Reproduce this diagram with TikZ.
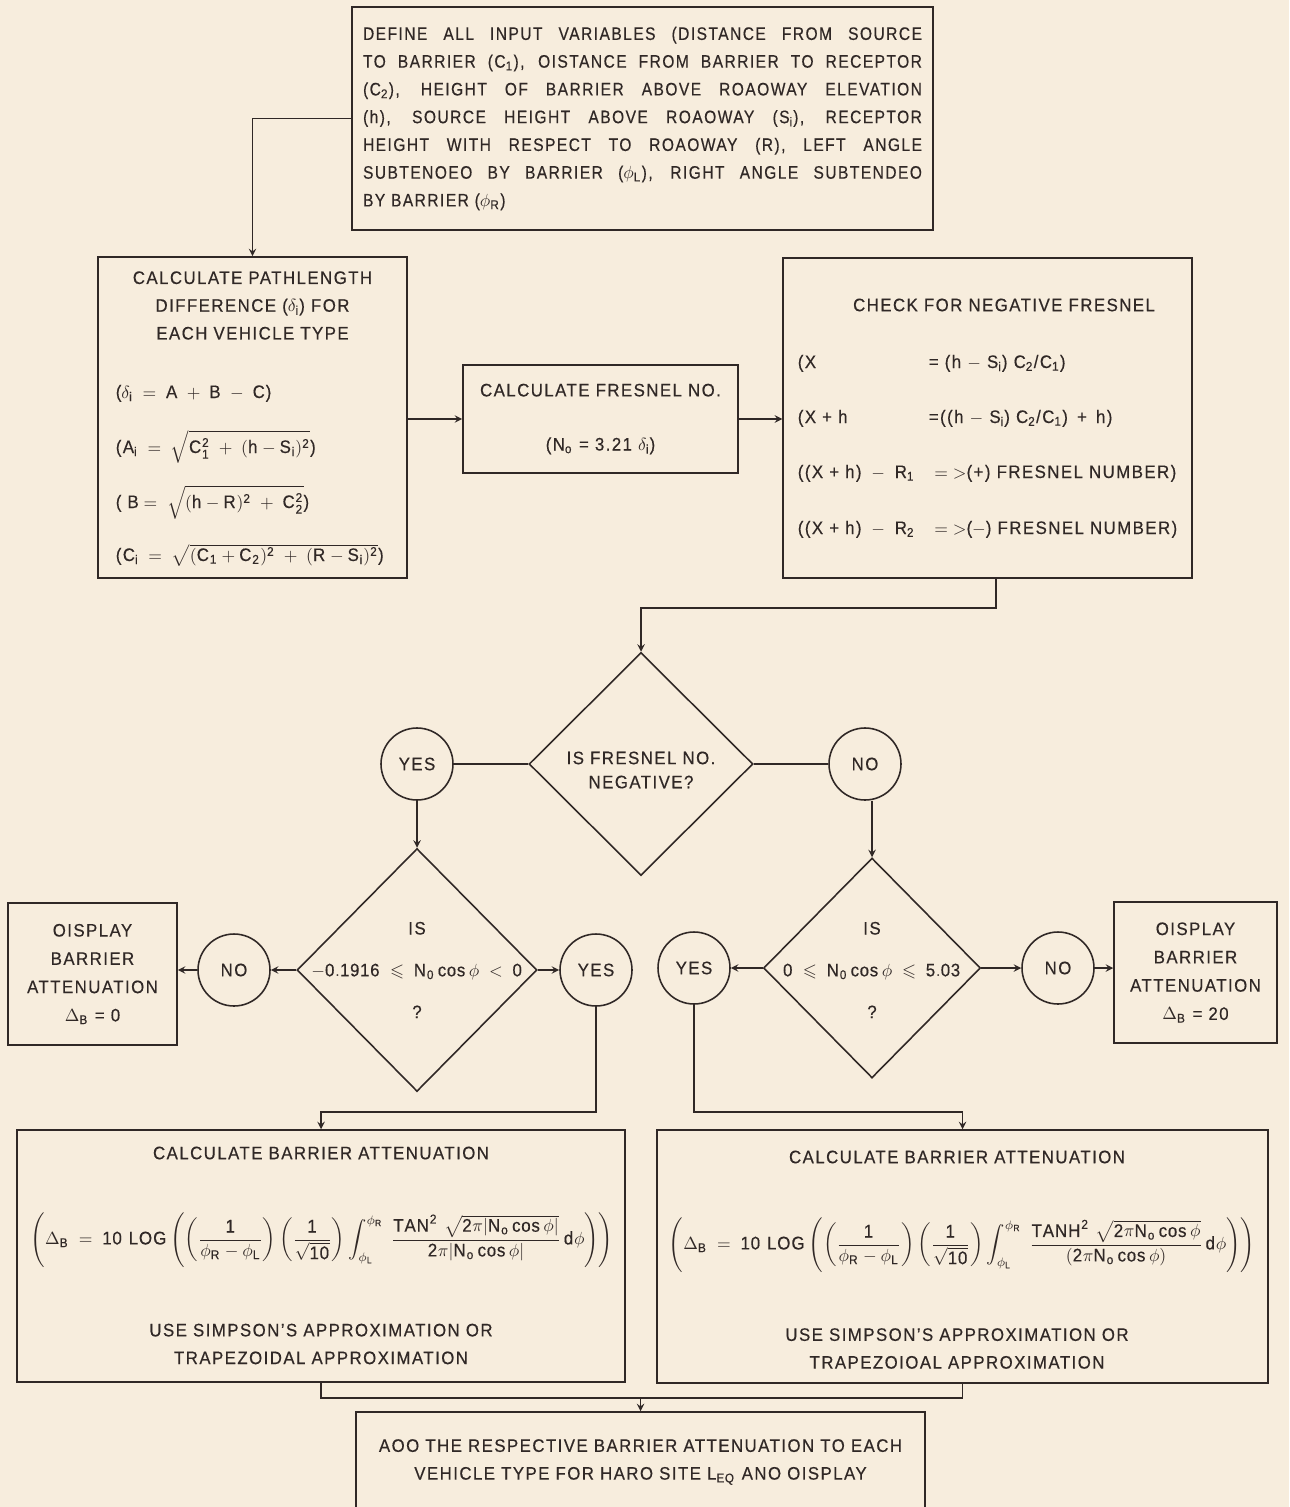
\documentclass[tikz,border=0pt]{standalone}
\usepackage{amsmath,amssymb}
\usepackage{fontspec}
\setmainfont{Liberation Sans}[FakeStretch=0.93,LetterSpace=8,FakeBold=0.4]
\newfontfamily\inputfont{Liberation Sans}[FakeStretch=0.86,LetterSpace=8,FakeBold=0.4]
\usetikzlibrary{shapes.geometric}
\definecolor{paper}{RGB}{247,237,221}
\definecolor{ink}{RGB}{48,40,38}
\tikzset{
  box/.style={draw,rectangle,inner sep=0pt},
  answer/.style={draw,circle,minimum size=1.44cm,inner sep=0pt},
  query/.style={draw,diamond,inner sep=0pt},
  txt/.style={inner sep=0pt},
  formula/.style={inner sep=0pt,font=\fontsize{10.4}{14}\selectfont}
}
\begin{document}
\begin{tikzpicture}[x=0.02cm,y=-0.02cm,>=stealth,line width=0.9pt,color=ink,
  every node/.append style={font=\fontsize{10.3}{15.8}\selectfont}]
 \useasboundingbox (0,0) rectangle (1289,1507);
 \clip (0,0) rectangle (1289,1507);
 \fill[paper] (0,0) rectangle (1289,1507);

 \node[box,minimum width=11.62cm,minimum height=4.46cm,text width=11.18cm,align=justify,
   font=\inputfont\fontsize{10.3}{15.8}\selectfont] (input) at (642.5,118.5)
  {DEFINE ALL INPUT VARIABLES (DISTANCE FROM SOURCE\linebreak
   TO BARRIER (C$_\mathrm{1}$), OISTANCE FROM BARRIER TO RECEPTOR\linebreak
   (C$_\mathrm{2}$), HEIGHT OF BARRIER ABOVE ROAOWAY ELEVATION\linebreak
   (h), SOURCE HEIGHT ABOVE ROAOWAY (S$_\mathrm{i}$), RECEPTOR\linebreak
   HEIGHT WITH RESPECT TO ROAOWAY (R), LEFT ANGLE\linebreak
   SUBTENOEO BY BARRIER ($\phi_\mathrm{L}$), RIGHT ANGLE SUBTENDEO\linebreak
   BY BARRIER ($\phi_\mathrm{R}$)};

 \node[box,minimum width=6.18cm,minimum height=6.42cm] (path) at (252.5,417.5) {};
 \node[txt,align=center] (pathtitle) at (252.5,305.5)
  {CALCULATE PATHLENGTH\\DIFFERENCE ($\delta_\mathrm{i}$) FOR\\EACH VEHICLE TYPE};
 \node[txt,anchor=base west] (pd) at (115,398)
  {($\delta_\mathrm{i}\;=\;\mathrm{A}\;+\;\mathrm{B}\;-\;\mathrm{C}$)};
 \node[txt,anchor=base west] (pa) at (115,453)
  {(A$_\mathrm{i}\;=\;\sqrt{\mathrm{C}_\mathrm{1}^\mathrm{2}\;+\;(\mathrm{h}-\mathrm{S}_\mathrm{i})^\mathrm{2}}$)};
 \node[txt,anchor=base west] (pb) at (115,508)
  {( B$\;=\;\sqrt{(\mathrm{h}-\mathrm{R})^\mathrm{2}\;+\;\mathrm{C}_\mathrm{2}^\mathrm{2}}$)};
 \node[txt,anchor=base west] (pc) at (115,561)
  {(C$_\mathrm{i}\;=\;\sqrt{(\mathrm{C}_\mathrm{1}+\mathrm{C}_\mathrm{2})^\mathrm{2}\;+\;(\mathrm{R}-\mathrm{S}_\mathrm{i})^\mathrm{2}}$)};

 \node[box,minimum width=5.5cm,minimum height=2.16cm,align=center] (fres) at (600.5,419)
  {CALCULATE FRESNEL NO.\\[15pt](N$_\mathrm{o}$ = 3.21 $\delta_\mathrm{i}$)};

 \node[box,minimum width=8.18cm,minimum height=6.4cm] (check) at (987.5,418) {};
 \node[txt] (checktitle) at (1004,305) {CHECK FOR NEGATIVE FRESNEL};
 \node[txt,anchor=base west] (cx) at (797,368)
  {\makebox[2.62cm][l]{(X}= (h $-$ S$_\mathrm{i}$) C$_\mathrm{2}$/C$_\mathrm{1}$)};
 \node[txt,anchor=base west] (cxh) at (797,423)
  {\makebox[2.62cm][l]{(X + h}=((h $-$ S$_\mathrm{i}$) C$_\mathrm{2}$/C$_\mathrm{1}$)\, + \,h)};
 \node[txt,anchor=base west] (cr1) at (797,478)
  {((X + h)$\;\;-\;\;$R$_\mathrm{1}\;\;\;=\;>$(+) FRESNEL NUMBER)};
 \node[txt,anchor=base west] (cr2) at (797,534)
  {((X + h)$\;\;-\;\;$R$_\mathrm{2}\;\;\;=\;>$($-$) FRESNEL NUMBER)};

 \node[query,minimum width=4.48cm,minimum height=4.46cm] (sign) at (641,764) {};
 \node[txt,align=center,font=\fontsize{10.3}{13.7}\selectfont] (signtext) at (641,770)
  {IS FRESNEL NO.\\NEGATIVE?};
 \node[query,minimum width=4.8cm,minimum height=4.86cm] (neg) at (417,970) {};
 \node[txt,align=center] (negtext) at (417,970)
  {IS\\[8pt]$-\mathrm{0.1916}\;\leqslant\;\mathrm{N}_\mathrm{0}\cos\phi\;<\;\mathrm{0}$\\[8pt]?};
 \node[query,minimum width=4.34cm,minimum height=4.4cm] (pos) at (872,968) {};
 \node[txt,align=center] (postext) at (872,970)
  {IS\\[8pt]$\mathrm{0}\;\leqslant\;\mathrm{N}_\mathrm{0}\cos\phi\;\leqslant\;\mathrm{5.03}$\\[8pt]?};

 \foreach \n/\x/\y/\t in {yes1/417/764/YES,no1/865/764/NO,no2/234/970/NO,
   yes2/596/970/YES,yes3/694/968/YES,no3/1058/968/NO}
   \node[answer] (\n) at (\x,\y) {\t};

 \node[box,minimum width=3.38cm,minimum height=2.84cm,align=center,
   font=\fontsize{10.3}{16.1}\selectfont] (zero) at (92.5,974)
  {OISPLAY\\BARRIER\\ATTENUATION\\$\Delta_\mathrm{B}$ = 0};
 \node[box,minimum width=3.26cm,minimum height=2.82cm,align=center,
   font=\fontsize{10.3}{16.1}\selectfont] (twenty) at (1195.5,972.5)
  {OISPLAY\\BARRIER\\ATTENUATION\\$\Delta_\mathrm{B}$ = 20};

 \node[box,minimum width=12.16cm,minimum height=5.04cm] (attl) at (321,1256) {};
 \node[txt] (attltitle) at (321,1153) {CALCULATE BARRIER ATTENUATION};
 \node[formula] (attlform) at (322,1240)
  {$\displaystyle\left(\Delta_\mathrm{B}\;=\;\mathrm{10\ LOG}\left(\left(\frac{\mathrm{1}}{\phi_\mathrm{R}-\phi_\mathrm{L}}\right)
   \left(\frac{\mathrm{1}}{\sqrt{\mathrm{10}}}\right)\int_{\phi_\mathrm{L}}^{\phi_\mathrm{R}}\;
   \frac{\mathrm{TAN}^\mathrm{2}\ \sqrt{\mathrm{2}\pi|\mathrm{N_o}\cos\phi|}}{\mathrm{2}\pi|\mathrm{N_o}\cos\phi|}\,\mathrm{d}\phi\right)\right)$};
 \node[txt,align=center] (attlnote) at (321,1344)
  {USE SIMPSON'S APPROXIMATION OR\\TRAPEZOIDAL APPROXIMATION};

 \node[box,minimum width=12.22cm,minimum height=5.06cm] (attr) at (962.5,1256.5) {};
 \node[txt] (attrtitle) at (957,1157) {CALCULATE BARRIER ATTENUATION};
 \node[formula] (attrform) at (962,1245)
  {$\displaystyle\left(\Delta_\mathrm{B}\;=\;\mathrm{10\ LOG}\left(\left(\frac{\mathrm{1}}{\phi_\mathrm{R}-\phi_\mathrm{L}}\right)
   \left(\frac{\mathrm{1}}{\sqrt{\mathrm{10}}}\right)\int_{\phi_\mathrm{L}}^{\phi_\mathrm{R}}\;
   \frac{\mathrm{TANH}^\mathrm{2}\ \sqrt{\mathrm{2}\pi\mathrm{N_o}\cos\phi}}{(\mathrm{2}\pi\mathrm{N_o}\cos\phi)}\,\mathrm{d}\phi\right)\right)$};
 \node[txt,align=center] (attrnote) at (957,1348.5)
  {USE SIMPSON'S APPROXIMATION OR\\TRAPEZOIOAL APPROXIMATION};

 \node[box,minimum width=11.38cm,minimum height=2cm,align=center] (sum) at (640.5,1462)
  {AOO THE RESPECTIVE BARRIER ATTENUATION TO EACH\\VEHICLE TYPE FOR HARO SITE L$_\mathrm{EQ}$ ANO OISPLAY};

 \draw[->] (input.west) -| (path.north);
 \draw[->] (fres.west -| path.east) -- (fres.west);
 \draw[->] (fres.east) -- (fres.east -| check.west);
 \coordinate (c1) at (996,608);
 \draw[->] (check.south -| c1) -- (c1) -| (sign.north);
 \draw (yes1) -- (sign.west);
 \draw (sign.east) -- (no1);
 \draw[->] (yes1) -- (neg);
 \draw[->] (no1.south -| pos.north) -- (pos.north);
 \draw[->] (neg.west) -- (no2);
 \draw[->] (no2) -- (no2 -| zero.east);
 \draw[->] (neg.east) -- (yes2);
 \draw[->] (pos.west) -- (yes3);
 \draw[->] (pos.east) -- (no3);
 \draw[->] (no3) -- (no3 -| twenty.west);
 \coordinate (jl) at (321,1112);
 \coordinate (jr) at (962.5,1112);
 \draw[->] (yes2) |- (jl) -- (attl);
 \draw[->] (yes3) |- (jr) -- (attr);
 \coordinate (jb) at (640.5,1398);
 \draw (attl) |- (jb);
 \draw (attr) |- (jb);
 \draw[->] (jb) -- (sum);
\end{tikzpicture}
\end{document}
